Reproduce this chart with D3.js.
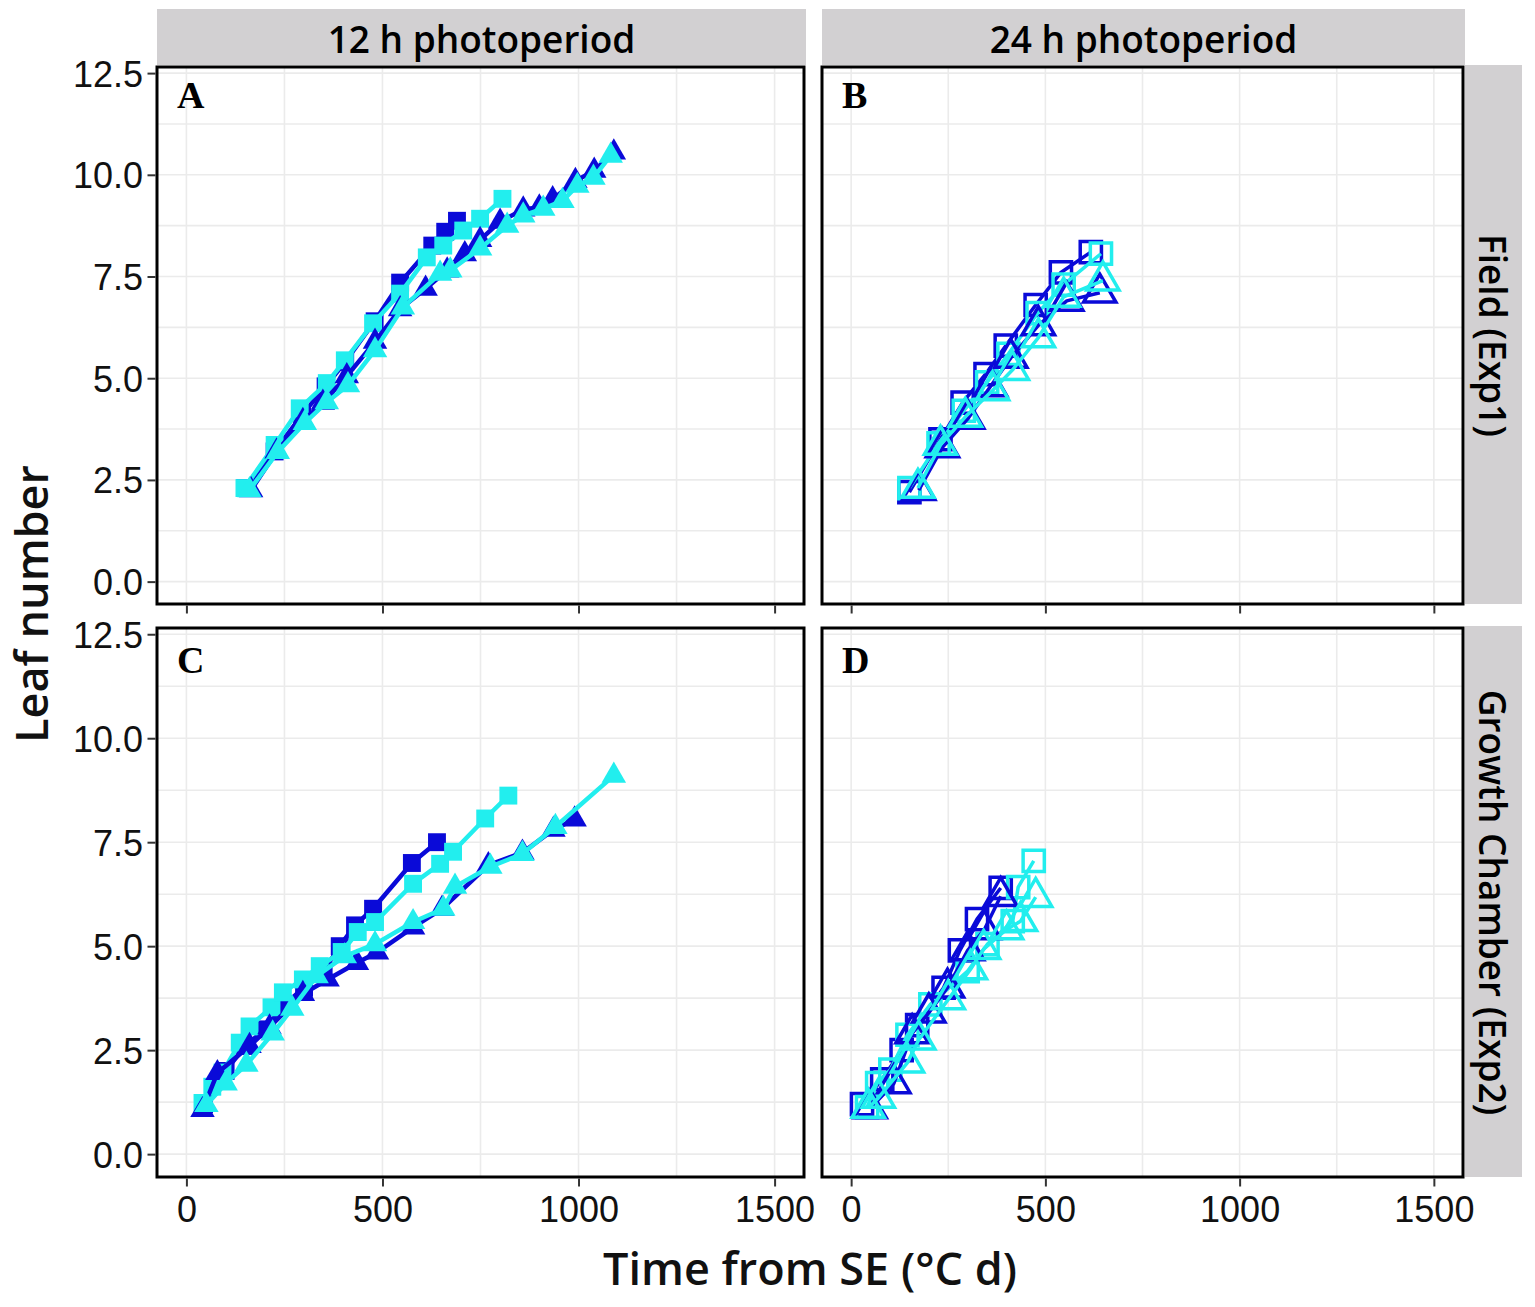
<!DOCTYPE html>
<html>
<head>
<meta charset="utf-8">
<script src="https://cdn.jsdelivr.net/npm/d3@7"></script>
<style>
  html, body { margin: 0; padding: 0; background: #fff; }
  svg { display: block; }
</style>
</head>
<body>
<svg id="chart" width="1535" height="1307"></svg>
<script>
// ---------------- DATA ----------------
const colLabels = ["12 h photoperiod", "24 h photoperiod"];
const rowLabels = ["Field (Exp1)", "Growth Chamber (Exp2)"];
const panelLetters = ["A", "B", "C", "D"];
const xTicks = [0, 500, 1000, 1500];
const yTicks = [0, 2.5, 5, 7.5, 10, 12.5];
const xTitle = "Time from SE (°C d)";
const yTitle = "Leaf number";

// Panel A (12 h, Field)
const A_blueSq_x = [150, 225, 295, 355, 405, 480, 545, 627, 660, 690];
const A_blueSq_y = [2.3, 3.2, 4.1, 4.8, 5.4, 6.4, 7.35, 8.26, 8.6, 8.87];
const A_cyanSq_x = [148, 225, 289, 358, 404, 476, 545, 613, 655, 706, 749, 806];
const A_cyanSq_y = [2.3, 3.36, 4.26, 4.88, 5.44, 6.35, 7.08, 7.97, 8.26, 8.63, 8.92, 9.41];
const A_blueTri_x = [165, 230, 297, 348, 409, 481, 545, 610, 665, 710, 749, 800, 859, 900, 934, 992, 1040, 1090];
const A_blueTri_y = [2.25, 3.2, 3.95, 4.4, 5.05, 5.9, 6.7, 7.2, 7.65, 8.05, 8.4, 8.85, 9.15, 9.2, 9.4, 9.85, 10.1, 10.55];
const A_cyanTri_x = [161, 233, 302, 358, 412, 481, 552, 647, 673, 749, 818, 859, 910, 959, 997, 1038, 1082];
const A_cyanTri_y = [2.25, 3.19, 3.9, 4.41, 4.83, 5.69, 6.74, 7.57, 7.65, 8.19, 8.75, 9.0, 9.17, 9.36, 9.73, 9.93, 10.47];

// Panel B (24 h, Field)
const B_blueSq_x = [150, 230, 287, 346, 398, 475, 540, 617];
const B_blueSq_y = [2.2, 3.5, 4.4, 5.1, 5.8, 6.8, 7.6, 8.1];
const B_cyanSq_x = [150, 225, 290, 350, 405, 480, 547, 643];
const B_cyanSq_y = [2.3, 3.4, 4.2, 4.9, 5.6, 6.6, 7.3, 8.06];
const B_blueTri_x = [174, 235, 300, 359, 411, 482, 555, 640];
const B_blueTri_y = [2.25, 3.3, 4.0, 4.8, 5.5, 6.3, 6.9, 7.1];
const B_cyanTri_x = [172, 230, 294, 364, 415, 482, 547, 648];
const B_cyanTri_y = [2.3, 3.36, 4.05, 4.7, 5.2, 6.0, 7.0, 7.4];

// Panel C (12 h, Growth Chamber)
const C_blueSq_x = [45, 100, 150, 200, 250, 300, 350, 391, 430, 476, 575, 639];
const C_blueSq_y = [1.2, 2.0, 2.6, 3.0, 3.6, 4.0, 4.4, 5.0, 5.5, 5.9, 7.0, 7.5];
const C_cyanSq_x = [41, 66, 92, 136, 161, 217, 246, 297, 340, 396, 437, 481, 578, 647, 680, 762, 821];
const C_cyanSq_y = [1.23, 1.62, 1.96, 2.68, 3.07, 3.53, 3.89, 4.2, 4.52, 4.86, 5.34, 5.58, 6.5, 6.98, 7.27, 8.07, 8.62];
const C_blueTri_x = [41, 79, 161, 212, 297, 360, 435, 486, 578, 652, 770, 857, 936, 990];
const C_blueTri_y = [1.06, 1.95, 2.6, 3.05, 3.85, 4.2, 4.6, 4.85, 5.45, 5.9, 6.95, 7.25, 7.8, 8.05];
const C_cyanTri_x = [51, 100, 153, 220, 270, 332, 404, 481, 578, 655, 685, 775, 857, 941, 1090];
const C_cyanTri_y = [1.18, 1.7, 2.15, 2.9, 3.5, 4.28, 4.76, 5.05, 5.58, 5.9, 6.43, 6.91, 7.22, 7.87, 9.1];

// Panel D (24 h, Growth Chamber)
const D_blueSq_x = [28, 80, 130, 170, 238, 280, 324, 385];
const D_blueSq_y = [1.2, 1.8, 2.5, 3.1, 4.0, 4.9, 5.65, 6.4];
const D_cyanSq_x = [41, 67, 101, 145, 204, 300, 351, 416, 430, 470];
const D_cyanSq_y = [1.13, 1.71, 2.03, 2.87, 3.6, 4.4, 5.05, 5.6, 6.42, 7.05];
const D_blueTri_x = [49, 110, 157, 200, 248, 300, 343, 385];
const D_blueTri_y = [1.1, 1.7, 2.9, 3.4, 4.0, 4.9, 5.4, 6.2];
const D_cyanTri_x = [44, 70, 145, 174, 250, 307, 341, 400, 436, 475];
const D_cyanTri_y = [1.11, 1.35, 2.2, 2.75, 3.72, 4.44, 4.93, 5.4, 5.6, 6.18];

// ---------------- LAYOUT / STYLE ----------------
const BLUE = "#0a0ad8";
const CYAN = "#22eeee";
const xDomain = [-75, 1575];
const yDomain = [-0.55, 12.65];

const zip = (xs, ys) => xs.map((x, i) => ({ x, y: ys[i] }));
const seriesFor = (p) => [
  { color: BLUE, shape: "sq",  pts: zip(eval(p + "_blueSq_x"), eval(p + "_blueSq_y")) },
  { color: CYAN, shape: "sq",  pts: zip(eval(p + "_cyanSq_x"), eval(p + "_cyanSq_y")) },
  { color: BLUE, shape: "tri", pts: zip(eval(p + "_blueTri_x"), eval(p + "_blueTri_y")) },
  { color: CYAN, shape: "tri", pts: zip(eval(p + "_cyanTri_x"), eval(p + "_cyanTri_y")) }
];

const cols = [{ x0: 157, x1: 804 }, { x0: 822, x1: 1463 }];
const rows = [{ y0: 67, y1: 604 }, { y0: 628, y1: 1177 }];

const svg = d3.select("#chart");
const tickFont = "'Liberation Sans', Arial, sans-serif";
const titleFont = "'Open Sans', 'Noto Sans', sans-serif";

// strips
colLabels.forEach((lab, c) => {
  const x0 = cols[c].x0, x1 = cols[c].x1 + 2;
  svg.append("rect").attr("x", x0).attr("y", 9).attr("width", x1 - x0).attr("height", 56).attr("fill", "#d2d0d2");
  svg.append("text").attr("x", (x0 + x1) / 2).attr("y", 53).attr("text-anchor", "middle")
    .attr("font-family", titleFont).attr("font-weight", 600).attr("font-size", 37).attr("fill", "#000").text(lab);
});
rowLabels.forEach((lab, r) => {
  const y0 = rows[r].y0, y1 = rows[r].y1;
  svg.append("rect").attr("x", 1465).attr("y", y0 - 2).attr("width", 57).attr("height", y1 - y0 + 2).attr("fill", "#d2d0d2");
  svg.append("text").attr("transform", `translate(1493,${(y0 + y1) / 2}) rotate(90)`)
    .attr("text-anchor", "middle").attr("dominant-baseline", "central")
    .attr("font-family", titleFont).attr("font-weight", 600).attr("font-size", 37).attr("fill", "#000").text(lab);
});

const symSq = (size) => d3.symbol().type(d3.symbolSquare).size(size)();
const symTri = (size) => d3.symbol().type(d3.symbolTriangle).size(size)();

panelLetters.forEach((letter, i) => {
  const r = Math.floor(i / 2), c = i % 2;
  const open = c === 1;
  const x = d3.scaleLinear().domain(xDomain).range([cols[c].x0, cols[c].x1]);
  const y = d3.scaleLinear().domain(yDomain).range([rows[r].y1, rows[r].y0]);
  const g = svg.append("g");
  const clipId = "clip" + letter;
  svg.append("clipPath").attr("id", clipId).append("rect")
    .attr("x", cols[c].x0).attr("y", rows[r].y0)
    .attr("width", cols[c].x1 - cols[c].x0).attr("height", rows[r].y1 - rows[r].y0);

  // grid (major + minor)
  const gx = d3.range(0, 1501, 250), gy = d3.range(0, 12.51, 1.25);
  g.selectAll(".gx").data(gx).join("line")
    .attr("x1", d => x(d)).attr("x2", d => x(d)).attr("y1", rows[r].y0).attr("y2", rows[r].y1)
    .attr("stroke", "#ebebeb").attr("stroke-width", 1.6);
  g.selectAll(".gy").data(gy).join("line")
    .attr("y1", d => y(d)).attr("y2", d => y(d)).attr("x1", cols[c].x0).attr("x2", cols[c].x1)
    .attr("stroke", "#ebebeb").attr("stroke-width", 1.6);

  // data
  const dg = g.append("g").attr("clip-path", `url(#${clipId})`);
  const line = d3.line().x(d => x(d.x)).y(d => y(d.y));
  seriesFor(letter).forEach(s => {
    dg.append("path").attr("d", line(s.pts)).attr("fill", "none")
      .attr("stroke", s.color).attr("stroke-width", open ? 3.5 : 4.5).attr("stroke-linejoin", "round");
    const path = s.shape === "sq" ? symSq(open ? 450 : 320) : symTri(open ? 450 : 260);
    dg.selectAll(null).data(s.pts).join("path")
      .attr("transform", d => `translate(${x(d.x)},${y(d.y)})`)
      .attr("d", path)
      .attr("fill", open ? "none" : s.color)
      .attr("stroke", s.color).attr("stroke-width", open ? 3.5 : 0);
  });

  // border
  g.append("rect").attr("x", cols[c].x0).attr("y", rows[r].y0)
    .attr("width", cols[c].x1 - cols[c].x0).attr("height", rows[r].y1 - rows[r].y0)
    .attr("fill", "none").attr("stroke", "#000").attr("stroke-width", 3);

  // bottom axis ticks
  const xa = g.append("g").attr("transform", `translate(0,${rows[r].y1 + 1.5})`)
    .call(d3.axisBottom(x).tickValues(xTicks).tickSize(8).tickFormat(r === 1 ? d3.format("d") : ""));
  xa.select(".domain").remove();
  xa.selectAll(".tick line").attr("stroke", "#333").attr("stroke-width", 2);
  xa.selectAll(".tick text").attr("font-family", tickFont).attr("font-size", 36)
    .attr("fill", "#111").attr("dy", 0).attr("y", 43.5);

  // left axis
  if (c === 0) {
    const ya = g.append("g").attr("transform", `translate(${cols[c].x0 - 1.5},0)`)
      .call(d3.axisLeft(y).tickValues(yTicks).tickSize(8).tickFormat(d3.format(".1f")));
    ya.select(".domain").remove();
    ya.selectAll(".tick line").attr("stroke", "#333").attr("stroke-width", 2);
    ya.selectAll(".tick text").attr("font-family", tickFont).attr("font-size", 36)
      .attr("fill", "#111").attr("x", -12.5).attr("dy", "0.36em");
  }

  // panel letter
  g.append("text").attr("x", cols[c].x0 + 20).attr("y", rows[r].y0 + (r === 0 ? 41 : 45))
    .attr("font-family", "'Liberation Serif', 'Times New Roman', serif").attr("font-weight", "bold")
    .attr("font-size", 38).attr("fill", "#000").text(letter);
});

// axis titles
svg.append("text").attr("x", 810).attr("y", 1285).attr("text-anchor", "middle")
  .attr("font-family", titleFont).attr("font-weight", 600).attr("font-size", 45).attr("fill", "#111").text(xTitle);
svg.append("text").attr("transform", "translate(48,604) rotate(-90)").attr("text-anchor", "middle")
  .attr("font-family", titleFont).attr("font-weight", 600).attr("font-size", 45).attr("fill", "#111").text(yTitle);
</script>
</body>
</html>
